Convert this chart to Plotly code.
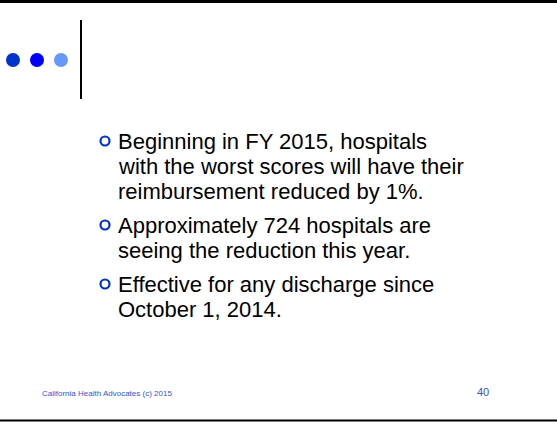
import plotly.graph_objects as go

# Slide content
bullet_paragraphs = [
    ["Beginning in FY 2015, hospitals", "with the worst scores will have their", "reimbursement reduced by 1%."],
    ["Approximately 724 hospitals are", "seeing the reduction this year."],
    ["Effective for any discharge since", "October 1, 2014."],
]
footer_text = "California Health Advocates (c) 2015"
page_number = "40"
dot_colors = ["#0033CC", "#0000FF", "#6699FF"]

W, H = 557, 422
fig = go.Figure()

shapes = []
annotations = []

# top and bottom rules
shapes.append(dict(type="line", x0=0, x1=W, y0=1.5, y1=1.5, line=dict(color="black", width=3)))
shapes.append(dict(type="line", x0=0, x1=W, y0=420.5, y1=420.5, line=dict(color="black", width=2)))
# vertical rule
shapes.append(dict(type="line", x0=81, x1=81, y0=20, y1=99, line=dict(color="black", width=2)))
# three dots
for i, c in enumerate(dot_colors):
    cx, cy, r = 13 + 24 * i, 60, 7
    shapes.append(dict(type="circle", x0=cx - r, x1=cx + r, y0=cy - r, y1=cy + r,
                       fillcolor=c, line=dict(width=0)))

font_main = dict(family="Liberation Sans, Arial, sans-serif", size=22, color="black")
line_gap = 25
para_gap = 34
y = 141
for para in bullet_paragraphs:
    # bullet ring
    shapes.append(dict(type="circle", x0=100.5, x1=109.5, y0=y - 4.5, y1=y + 4.5,
                       line=dict(color="#0033CC", width=2.2), fillcolor="rgba(0,0,0,0)"))
    for j, line in enumerate(para):
        annotations.append(dict(x=116, y=y, text=line, showarrow=False, xanchor="left",
                                yanchor="middle", font=font_main, xref="x", yref="y"))
        if j < len(para) - 1:
            y += line_gap
    y += para_gap

annotations.append(dict(x=40, y=393, text=footer_text, showarrow=False, xanchor="left",
                        yanchor="middle", xref="x", yref="y",
                        font=dict(family="Liberation Sans, Arial, sans-serif", size=8, color="#3355CC")))
annotations.append(dict(x=475, y=392, text=page_number, showarrow=False, xanchor="left",
                        yanchor="middle", xref="x", yref="y",
                        font=dict(family="Liberation Sans, Arial, sans-serif", size=11, color="#3355CC")))

fig.update_layout(
    width=W, height=H, margin=dict(l=0, r=0, t=0, b=0),
    paper_bgcolor="white", plot_bgcolor="white",
    xaxis=dict(range=[0, W], visible=False, fixedrange=True),
    yaxis=dict(range=[H, 0], visible=False, fixedrange=True),
    shapes=shapes, annotations=annotations, showlegend=False,
)
fig.write_html("out.html", config={"displayModeBar": False},
               post_script="document.body.style.margin='0px';document.body.style.overflow='hidden';")
